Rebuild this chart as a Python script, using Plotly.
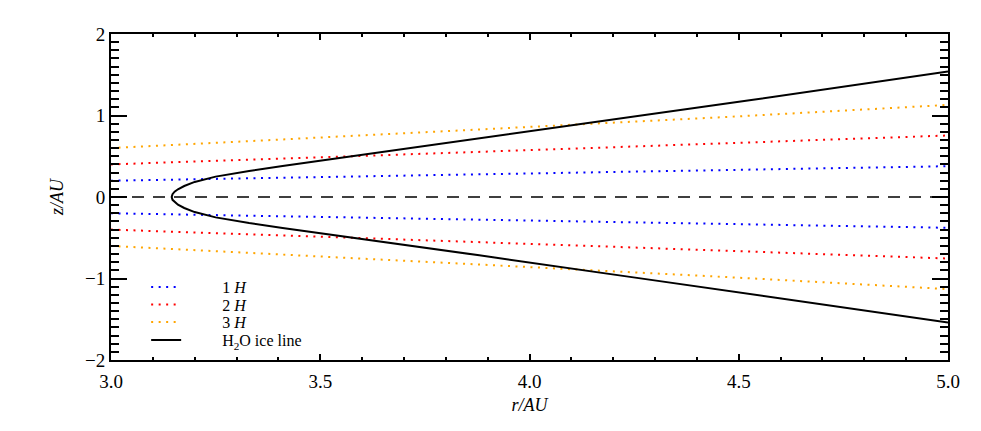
import plotly.graph_objects as go

# Scale height curves read at these radii
r_h = [3.0, 3.5, 4.0, 4.5, 5.0]
z_1h_up = [0.20, 0.243, 0.287, 0.332, 0.378]
z_2h_up = [0.40, 0.485, 0.575, 0.665, 0.755]
z_3h_up = [0.60, 0.73, 0.86, 0.99, 1.13]
z_1h_dn = [-0.20, -0.243, -0.287, -0.332, -0.378]
z_2h_dn = [-0.40, -0.485, -0.575, -0.665, -0.755]
z_3h_dn = [-0.60, -0.73, -0.86, -0.99, -1.13]

# H2O ice line (bottom branch to top branch)
r_ice = [5.0, 4.53, 4.24, 3.88, 3.70, 3.52, 3.41, 3.33, 3.25, 3.20, 3.175, 3.16, 3.152, 3.147, 3.145,
         3.147, 3.152, 3.16, 3.175, 3.20, 3.25, 3.33, 3.41, 3.52, 3.70, 3.88, 4.24, 4.53, 5.0]
z_ice = [-1.54, -1.19, -0.98, -0.716, -0.59, -0.46, -0.38, -0.32, -0.25, -0.185, -0.135, -0.095, -0.065, -0.035, 0.0,
         0.035, 0.065, 0.095, 0.135, 0.185, 0.25, 0.32, 0.38, 0.46, 0.59, 0.716, 0.98, 1.19, 1.54]

# midplane
r_mid = [3.0, 5.0]
z_mid = [0.0, 0.0]

legend_names = ["1 <i>H</i>", "2 <i>H</i>", "3 <i>H</i>", "H<sub>2</sub>O ice line"]

BLUE = "#0000ff"
RED = "#ff0000"
ORANGE = "#ffa500"
DOT = "2px,5.5px"
FONT = "Liberation Serif, Times New Roman, Times, serif"
PAD = "\u00a0" * 9

fig = go.Figure()

fig.add_trace(go.Scatter(x=r_mid, y=z_mid, mode="lines", showlegend=False,
                         line=dict(color="black", width=1.6, dash="12px,9px")))

fig.add_trace(go.Scatter(x=r_h, y=z_1h_up, mode="lines", name=PAD + legend_names[0], legendgroup="1", legend="legend",
                         line=dict(color=BLUE, width=2, dash=DOT)))
fig.add_trace(go.Scatter(x=r_h, y=z_1h_dn, mode="lines", showlegend=False, legendgroup="1",
                         line=dict(color=BLUE, width=2, dash=DOT)))
fig.add_trace(go.Scatter(x=r_h, y=z_2h_up, mode="lines", name=PAD + legend_names[1], legendgroup="2", legend="legend2",
                         line=dict(color=RED, width=2, dash=DOT)))
fig.add_trace(go.Scatter(x=r_h, y=z_2h_dn, mode="lines", showlegend=False, legendgroup="2",
                         line=dict(color=RED, width=2, dash=DOT)))
fig.add_trace(go.Scatter(x=r_h, y=z_3h_up, mode="lines", name=PAD + legend_names[2], legendgroup="3", legend="legend3",
                         line=dict(color=ORANGE, width=2, dash=DOT)))
fig.add_trace(go.Scatter(x=r_h, y=z_3h_dn, mode="lines", showlegend=False, legendgroup="3",
                         line=dict(color=ORANGE, width=2, dash=DOT)))
fig.add_trace(go.Scatter(x=r_ice, y=z_ice, mode="lines", name=PAD + legend_names[3], legend="legend4",
                         line=dict(color="black", width=2)))

def leg(ypix):
    # legend row centred at ypix (page pixels); plot area spans y 34..360
    return dict(x=0.042, y=(360 - ypix) / 326, xanchor="left", yanchor="middle",
                bgcolor="rgba(0,0,0,0)", borderwidth=0,
                font=dict(family=FONT, size=16, color="black"))

fig.update_layout(
    width=981, height=431,
    margin=dict(l=111, r=33, t=34, b=71, autoexpand=False),
    paper_bgcolor="white", plot_bgcolor="white",
    font=dict(family=FONT, size=17, color="black"),
    legend=leg(287), legend2=leg(304.5), legend3=leg(322), legend4=leg(340),
    showlegend=True,
)

fig.update_xaxes(
    range=[3.0, 5.0], tickvals=[3.0, 3.5, 4.0, 4.5, 5.0], ticktext=["3.0", "3.5", "4.0", "4.5", "5.0"],
    ticks="inside", ticklen=6, tickwidth=1.5, tickcolor="black",
    minor=dict(dtick=0.1, ticks="inside", ticklen=3, tickwidth=1.5, tickcolor="black", showgrid=False),
    showline=True, linecolor="black", linewidth=2, mirror="ticks",
    showgrid=False, zeroline=False, automargin=False,
    ticklabelstandoff=3,
    title=dict(text="<i>r/AU</i>", standoff=8, font=dict(family=FONT, size=18)),
    tickfont=dict(family=FONT, size=19),
)
fig.update_yaxes(
    range=[-2, 2], tickvals=[-2, -1, 0, 1, 2],
    ticks="inside", ticklen=16, tickwidth=1.5, tickcolor="black",
    minor=dict(dtick=0.1, ticks="inside", ticklen=8, tickwidth=1.5, tickcolor="black", showgrid=False),
    showline=True, linecolor="black", linewidth=2, mirror="ticks",
    showgrid=False, zeroline=False, automargin=False,
    title=dict(text="<i>z/AU</i>", standoff=17, font=dict(family=FONT, size=18)),
    tickfont=dict(family=FONT, size=19),
)

fig.write_html("out.html", config={"displayModeBar": False},
               post_script="document.body.style.margin='0px';")
